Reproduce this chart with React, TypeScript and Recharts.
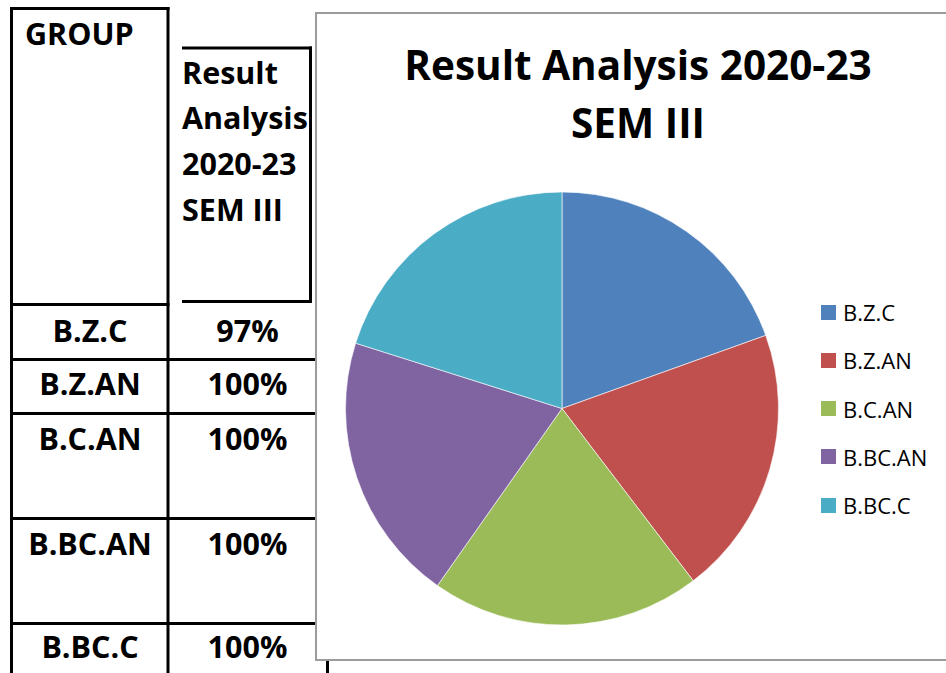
import React from 'react';
import { PieChart, Pie, Cell, Legend } from 'recharts';

const groups = ['B.Z.C', 'B.Z.AN', 'B.C.AN', 'B.BC.AN', 'B.BC.C'];
const resultPercent = [97, 100, 100, 100, 100];
const sliceColors = ['#4F81BD', '#C0504D', '#9BBB59', '#8064A2', '#4BACC6'];
const titleLines = ['Result Analysis 2020-23', 'SEM III'];
const headerLines = ['Result', 'Analysis', '2020-23', 'SEM III'];
const groupHeader = 'GROUP';

const pieData = groups.map((name, i) => ({ name, value: resultPercent[i] }));

// table geometry (page pixels)
const rowLines = [358, 412, 517, 622];
const rowBaselines = [342, 395, 450, 555, 658];
const headerBaselines = [83.5, 129, 175, 221];

const boldFont = '"Open Sans", sans-serif';
const tableFontSize = 30.5;

const renderLegend = (props: any) => {
  // keep the series order, the legend sorts by name otherwise
  const payload = [...(props.payload || [])].sort(
    (a: any, b: any) => groups.indexOf(a.value) - groups.indexOf(b.value)
  );
  return (
    <div style={{ fontFamily: '"Open Sans", sans-serif' }}>
      {payload.map((entry: any) => (
        <div
          key={entry.value}
          style={{ height: 48.25, display: 'flex', alignItems: 'center' }}
        >
          <span
            style={{
              width: 15,
              height: 15,
              background: entry.color,
              display: 'inline-block',
              marginRight: 7,
            }}
          />
          <span style={{ fontSize: 22, color: '#000', lineHeight: '22px' }}>{entry.value}</span>
        </div>
      ))}
    </div>
  );
};

const TableLayer = () => (
  <svg width={946} height={673} style={{ position: 'absolute', left: 0, top: 0 }}>
    {/* group column */}
    <rect x={10} y={7} width={3} height={666} fill="#000" />
    <rect x={166.5} y={7} width={3} height={666} fill="#000" />
    <rect x={10} y={7} width={159.5} height={3} fill="#000" />
    <rect x={10} y={303} width={159.5} height={3} fill="#000" />
    {/* result header box */}
    <rect x={182} y={46.5} width={130} height={3} fill="#000" />
    <rect x={309} y={46.5} width={3} height={256} fill="#000" />
    <rect x={182} y={300} width={130} height={3} fill="#000" />
    {/* right edge of second column */}
    <rect x={326} y={300} width={3} height={373} fill="#000" />
    {rowLines.map((y) => (
      <rect key={y} x={10} y={y} width={320} height={3} fill="#000" />
    ))}
    <text x={25} y={45} fontFamily={boldFont} fontWeight={700} fontSize={tableFontSize} fill="#000">
      {groupHeader}
    </text>
    {headerLines.map((t, i) => (
      <text key={t} x={182} y={headerBaselines[i]} fontFamily={boldFont} fontWeight={700} fontSize={tableFontSize} fill="#000">
        {t}
      </text>
    ))}
    {groups.map((g, i) => (
      <g key={g}>
        <text x={90} y={rowBaselines[i]} textAnchor="middle" fontFamily={boldFont} fontWeight={700} fontSize={tableFontSize} fill="#000">
          {g}
        </text>
        <text x={247.5} y={rowBaselines[i]} textAnchor="middle" fontFamily={boldFont} fontWeight={700} fontSize={tableFontSize} fill="#000">
          {resultPercent[i]}%
        </text>
      </g>
    ))}
  </svg>
);

export default function App() {
  return (
    <div style={{ position: 'absolute', left: 0, top: 0, width: 946, height: 673, overflow: 'hidden', background: '#fff' }}>
      <TableLayer />
      <div
        style={{
          position: 'absolute',
          left: 315,
          top: 12,
          width: 700,
          height: 649,
          boxSizing: 'border-box',
          border: '2px solid #9c9c9c',
          background: '#fff',
        }}
      />
      <div style={{ position: 'absolute', left: 0, top: 0 }}>
        <PieChart width={946} height={673} margin={{ top: 0, right: 0, bottom: 0, left: 0 }}>
          <Pie
            data={pieData}
            dataKey="value"
            nameKey="name"
            cx={562}
            cy={408.5}
            outerRadius={216.5}
            startAngle={90}
            endAngle={-270}
            stroke="#ffffff"
            strokeWidth={0.6}
            isAnimationActive={false}
          >
            {pieData.map((d, i) => (
              <Cell key={d.name} fill={sliceColors[i]} />
            ))}
          </Pie>
          <Legend
            layout="vertical"
            align="right"
            verticalAlign="middle"
            content={renderLegend}
            wrapperStyle={{ left: 821, right: 'auto', top: 288 }}
          />
        </PieChart>
      </div>
      <svg width={946} height={160} style={{ position: 'absolute', left: 0, top: 0, pointerEvents: 'none' }}>
        {titleLines.map((t, i) => (
          <text
            key={t}
            x={638}
            y={80 + i * 58}
            textAnchor="middle"
            fontFamily={boldFont}
            fontWeight={700}
            fontSize={40.5}
            fill="#000"
          >
            {t}
          </text>
        ))}
      </svg>
    </div>
  );
}
